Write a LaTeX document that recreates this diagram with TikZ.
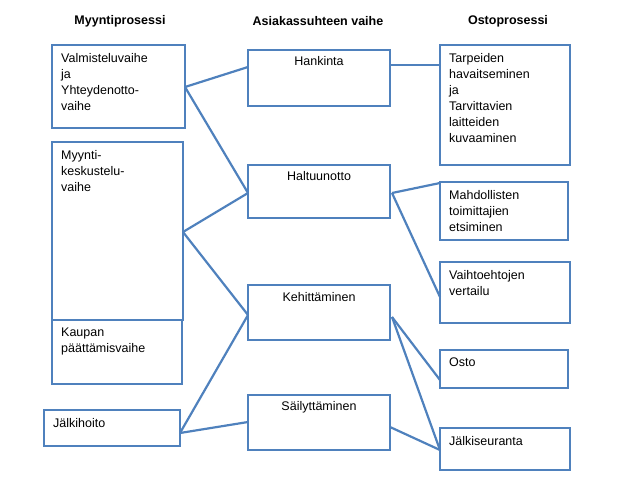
\documentclass[tikz,border=0pt]{standalone}
\usepackage{fontspec}
\setmainfont{Liberation Sans}
\definecolor{ln}{RGB}{79,129,189}
\tikzset{
  box/.style={draw=ln, line width=2.2pt, rectangle, inner sep=0pt},
  txt/.style={anchor=north west, align=left, inner sep=0pt, font=\fontsize{12.5}{16}\selectfont},
  head/.style={font=\fontsize{12.5}{15}\selectfont\bfseries},
  link/.style={draw=ln, line width=2.2pt}
}
\newcommand{\boxat}[6]{% name, x1, y1, x2, y2, text
  \node (#1) [box, minimum width={#4-#2}, minimum height={#5-#3}] at ({(#2+#4)/2}, {(#3+#5)/2}) {};
  \node (#1t) [txt] at ({#2+9}, {#3+8}) {#6};}
\begin{document}
\begin{tikzpicture}[x=1pt, y=-1pt]
\useasboundingbox (0,0) rectangle (640,490);
% headings
\node (h1) [head] at (120,21) {Myyntiprosessi};
\node (h2) [head] at (318,21) {Asiakassuhteen vaihe};
\node (h3) [head] at (508,21) {Ostoprosessi};
% left column
\boxat{valm}{52}{45}{185}{128}{Valmisteluvaihe\\ja\\Yhteydenotto-\\vaihe}
\boxat{myyn}{52}{142}{183}{320}{Myynti-\\keskustelu-\\vaihe}
\boxat{kaup}{52}{320}{182}{384}{Kaupan\\päättämisvaihe}
\boxat{jalh}{44}{410}{180}{446}{Jälkihoito}
% middle column
\node (hank) [box, minimum width=142, minimum height=56] at (319,78) {};
\node (hankt) [txt, anchor=north] at (319,56) {Hankinta};
\node (halt) [box, minimum width=142, minimum height=53] at (319,191.5) {};
\node (haltt) [txt, anchor=north] at (319,171) {Haltuunotto};
\node (keh) [box, minimum width=142, minimum height=55] at (319,312.5) {};
\node (keht) [txt, anchor=north] at (319,292) {Kehittäminen};
\node (sail) [box, minimum width=142, minimum height=55] at (319,422.5) {};
\node (sailt) [txt, anchor=north] at (319,401) {Säilyttäminen};
% right column
\boxat{tarp}{440}{45}{570}{165}{Tarpeiden\\havaitseminen\\ja\\Tarvittavien\\laitteiden\\kuvaaminen}
\boxat{mahd}{440}{182}{568}{240}{Mahdollisten\\toimittajien\\etsiminen}
\boxat{vaih}{440}{262}{570}{323}{Vaihtoehtojen\\vertailu}
\boxat{osto}{440}{350}{568}{388}{Osto}
\boxat{jals}{440}{428}{570}{470}{Jälkiseuranta}
% attachment points
\coordinate (valmR) at (185,87);
\coordinate (hankL) at (248,67);
\coordinate (hankR) at (390,65);
\coordinate (haltL) at (248,193);
\coordinate (haltR) at (392,193);
\coordinate (myynR) at (183,232);
\coordinate (kehL) at (248,315);
\coordinate (kehR) at (392,317);
\coordinate (jalhR) at (180,433);
\coordinate (sailL) at (248,422);
\coordinate (sailR) at (390,427);
\coordinate (tarpL) at (440,65);
\coordinate (mahdL) at (440,183);
\coordinate (vaihL) at (440,297);
\coordinate (ostoL) at (440,380);
\coordinate (jalsL) at (440,450);
% connectors
\draw [link] (valmR) -- (hankL);
\draw [link] (valmR) -- (haltL);
\draw [link] (myynR) -- (haltL);
\draw [link] (myynR) -- (kehL);
\draw [link] (jalhR) -- (kehL);
\draw [link] (jalhR) -- (sailL);
\draw [link] (hankR) -- (tarpL);
\draw [link] (haltR) -- (mahdL);
\draw [link] (haltR) -- (vaihL);
\draw [link] (kehR) -- (ostoL);
\draw [link] (kehR) -- (jalsL);
\draw [link] (sailR) -- (jalsL);
\end{tikzpicture}
\end{document}
